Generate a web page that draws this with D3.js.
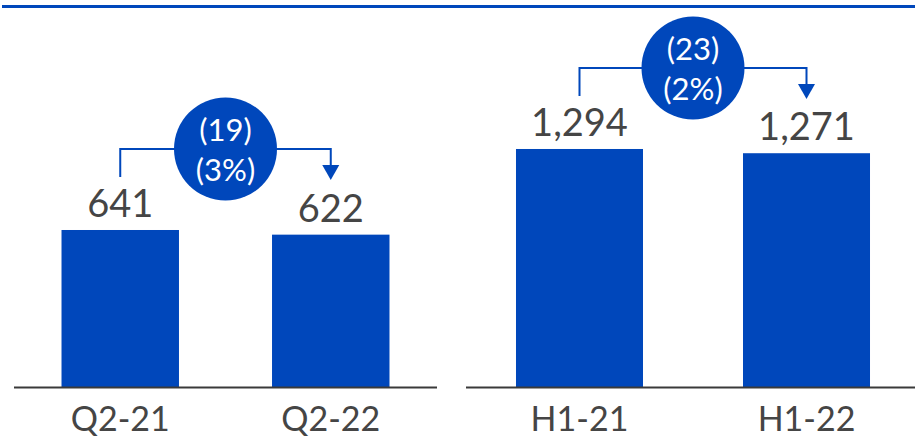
<!DOCTYPE html>
<html>
<head>
<meta charset="utf-8">
<script src="https://cdn.jsdelivr.net/npm/d3@7"></script>
<style>
  html, body { margin: 0; padding: 0; background: #fff; }
  svg { display: block; }
</style>
</head>
<body>
<div id="app"></div>
<script>
// two panels: quarter and half-year
const quarterCategories = ['Q2-21', 'Q2-22'];
const quarterValues = [641, 622];
const halfCategories = ['H1-21', 'H1-22'];
const halfValues = [1294, 1271];
const changeAmounts = ['(19)', '(23)'];
const changePercents = ['(3%)', '(2%)'];

const width = 915;
const height = 438;
const blue = '#0047BB';
const grey = '#454545';
const font = 'Lato, "Open Sans", sans-serif';
const baseY = 387;

const svg = d3.select('#app').append('svg')
	.attr('width', width)
	.attr('height', height);

// top rule
svg.append('line')
	.attr('x1', 2).attr('x2', width)
	.attr('y1', 6.5).attr('y2', 6.5)
	.attr('stroke', blue)
	.attr('stroke-width', 3);

const fmt = d3.format(',');

const panels = [
	{
		categories: quarterCategories,
		values: quarterValues,
		amount: changeAmounts[0],
		percent: changePercents[0],
		range: [14, 437],
		axis: [14, 437],
		paddingInner: 0.442,
		paddingOuter: 0.2257,
		max: 1580,
	},
	{
		categories: halfCategories,
		values: halfValues,
		amount: changeAmounts[1],
		percent: changePercents[1],
		range: [470, 916],
		axis: [466, 915],
		paddingInner: 0.4405,
		paddingOuter: 0.2026,
		max: 2104,
	},
];

panels.forEach((p) => {
	const x = d3.scaleBand()
		.domain(p.categories)
		.range(p.range)
		.paddingInner(p.paddingInner)
		.paddingOuter(p.paddingOuter);
	const y = d3.scaleLinear()
		.domain([0, p.max])
		.range([baseY, 0]);

	const data = p.categories.map((c, i) => ({cat: c, value: p.values[i]}));
	const g = svg.append('g');

	g.selectAll('rect')
		.data(data)
		.enter()
		.append('rect')
		.attr('x', (d) => x(d.cat))
		.attr('y', (d) => y(d.value))
		.attr('width', x.bandwidth())
		.attr('height', (d) => baseY - y(d.value))
		.attr('fill', blue);

	// baseline
	g.append('line')
		.attr('x1', p.axis[0]).attr('x2', p.axis[1])
		.attr('y1', baseY + 0.5).attr('y2', baseY + 0.5)
		.attr('stroke', '#3a3a3a')
		.attr('stroke-width', 2);

	g.selectAll('text.value')
		.data(data)
		.enter()
		.append('text')
		.attr('class', 'value')
		.attr('x', (d) => x(d.cat) + x.bandwidth() / 2)
		.attr('y', (d) => y(d.value) - 13)
		.attr('text-anchor', 'middle')
		.attr('font-family', font)
		.attr('font-size', 38)
		.attr('fill', grey)
		.text((d) => fmt(d.value));

	g.selectAll('text.cat')
		.data(data)
		.enter()
		.append('text')
		.attr('class', 'cat')
		.attr('x', (d) => x(d.cat) + x.bandwidth() / 2)
		.attr('y', 431)
		.attr('text-anchor', 'middle')
		.attr('font-family', font)
		.attr('font-size', 34)
		.attr('fill', grey)
		.text((d) => d.cat);

	// change bracket + bubble
	const x0 = x(p.categories[0]) + x.bandwidth() / 2;
	const x1 = x(p.categories[1]) + x.bandwidth() / 2;
	const top = y(d3.max(p.values));
	const by = top - 81;
	const cx = (x0 + x1) / 2;

	g.append('path')
		.attr('d', `M${x0},${top - 53} V${by} H${x1} V${top - 62}`)
		.attr('fill', 'none')
		.attr('stroke', blue)
		.attr('stroke-width', 2);

	g.append('path')
		.attr('d', `M${x1 - 8.5},${top - 65} L${x1 + 8.5},${top - 65} L${x1},${top - 50} Z`)
		.attr('fill', blue);

	g.append('circle')
		.attr('cx', cx)
		.attr('cy', by)
		.attr('r', 51.5)
		.attr('fill', blue);

	g.append('text')
		.attr('x', cx)
		.attr('y', by - 8)
		.attr('text-anchor', 'middle')
		.attr('font-family', font)
		.attr('font-size', 31)
		.attr('fill', '#fff')
		.text(p.amount);

	g.append('text')
		.attr('x', cx)
		.attr('y', by + 32)
		.attr('text-anchor', 'middle')
		.attr('font-family', font)
		.attr('font-size', 31)
		.attr('fill', '#fff')
		.text(p.percent);
});
</script>
</body>
</html>
